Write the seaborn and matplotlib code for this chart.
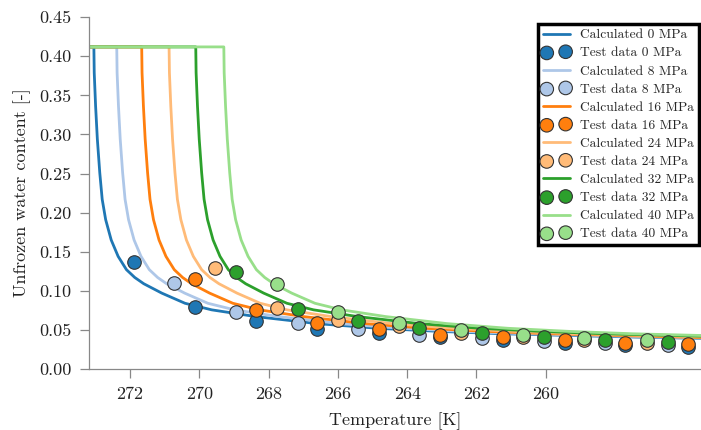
import matplotlib
matplotlib.use("Agg")
import matplotlib.pyplot as plt
import seaborn as sns

pressures = [0, 8, 16, 24, 32, 40]
colors = ["#1f77b4", "#aec7e8", "#ff7f0e", "#ffbb78", "#2ca02c", "#98df8a"]

# calculated curves
calc_T = {
    0: [273.2, 273.04, 273.03, 272.99, 272.94, 272.87, 272.80, 272.70, 272.54, 272.34, 272.10, 271.86,
        271.60, 271.08, 270.41, 269.64, 268.37, 266.60, 264.84, 263.05, 261.24, 259.45, 257.66, 255.40],
    8: [273.2, 272.38, 272.37, 272.33, 272.28, 272.21, 272.14, 272.04, 271.88, 271.68, 271.44, 271.20,
        270.94, 270.42, 269.75, 268.98, 267.71, 265.94, 264.18, 262.39, 260.58, 258.79, 257.00, 255.40],
    16: [273.2, 271.66, 271.65, 271.61, 271.56, 271.49, 271.42, 271.32, 271.16, 270.96, 270.72, 270.48,
         270.22, 269.70, 269.03, 268.26, 266.99, 265.22, 263.46, 261.67, 259.86, 258.07, 256.28, 255.40],
    24: [273.2, 270.87, 270.86, 270.82, 270.77, 270.70, 270.63, 270.53, 270.37, 270.17, 269.93, 269.69,
         269.43, 268.91, 268.24, 267.47, 266.20, 264.43, 262.67, 260.88, 259.07, 257.28, 255.49],
    32: [273.2, 270.10, 270.09, 270.05, 270.00, 269.93, 269.86, 269.76, 269.60, 269.40, 269.16, 268.92,
         268.66, 268.14, 267.47, 266.70, 265.43, 263.66, 261.90, 260.11, 258.30, 256.51, 254.72],
    40: [273.2, 269.29, 269.28, 269.24, 269.19, 269.12, 269.05, 268.95, 268.79, 268.59, 268.35, 268.11,
         267.85, 267.33, 266.66, 265.89, 264.62, 262.85, 261.09, 259.30, 257.49, 255.70, 253.91],
}
calc_theta = {
    0: [0.412, 0.412, 0.379, 0.336, 0.294, 0.251, 0.217, 0.191, 0.165, 0.144, 0.127, 0.117,
        0.109, 0.097, 0.084, 0.0756, 0.067, 0.058, 0.052, 0.048, 0.045, 0.043, 0.041, 0.039],
    8: [0.412, 0.412, 0.379, 0.336, 0.294, 0.251, 0.217, 0.191, 0.165, 0.144, 0.127, 0.117,
        0.109, 0.097, 0.084, 0.0756, 0.067, 0.058, 0.052, 0.048, 0.045, 0.043, 0.041, 0.0395],
    16: [0.412, 0.412, 0.379, 0.336, 0.294, 0.251, 0.217, 0.191, 0.165, 0.144, 0.127, 0.117,
         0.109, 0.097, 0.084, 0.0756, 0.067, 0.058, 0.052, 0.048, 0.045, 0.043, 0.041, 0.040],
    24: [0.412, 0.412, 0.379, 0.336, 0.294, 0.251, 0.217, 0.191, 0.165, 0.144, 0.127, 0.117,
         0.109, 0.097, 0.084, 0.0756, 0.067, 0.058, 0.052, 0.048, 0.045, 0.043, 0.041],
    32: [0.412, 0.412, 0.379, 0.336, 0.294, 0.251, 0.217, 0.191, 0.165, 0.144, 0.127, 0.117,
         0.109, 0.097, 0.084, 0.0756, 0.067, 0.058, 0.052, 0.048, 0.045, 0.043, 0.041],
    40: [0.412, 0.412, 0.379, 0.336, 0.294, 0.251, 0.217, 0.191, 0.165, 0.144, 0.127, 0.117,
         0.109, 0.097, 0.084, 0.0756, 0.067, 0.058, 0.052, 0.048, 0.045, 0.043, 0.041],
}

# test data
test_T = {
    0: [271.88, 270.12, 268.36, 266.60, 264.81, 263.05, 261.24, 259.45, 257.71, 255.90],
    8: [270.73, 268.94, 267.15, 265.42, 263.66, 261.84, 260.05, 258.29, 256.47],
    16: [270.12, 268.36, 266.60, 264.81, 263.05, 261.24, 259.45, 257.71, 255.90],
    24: [269.55, 267.76, 266.00, 264.24, 262.45, 260.66, 258.90, 257.08],
    32: [268.94, 267.15, 265.42, 263.66, 261.84, 260.05, 258.29, 256.47],
    40: [267.76, 266.00, 264.24, 262.45, 260.66, 258.90, 257.08],
}
test_theta = {
    0: [0.137, 0.0795, 0.0615, 0.051, 0.0457, 0.0406, 0.0372, 0.0337, 0.031, 0.0286],
    8: [0.110, 0.0727, 0.0586, 0.051, 0.0436, 0.0393, 0.0363, 0.033, 0.031],
    16: [0.115, 0.0748, 0.0594, 0.051, 0.0436, 0.0406, 0.0365, 0.0337, 0.032],
    24: [0.129, 0.0778, 0.062, 0.0543, 0.0457, 0.0406, 0.037, 0.0337],
    32: [0.124, 0.0765, 0.0615, 0.052, 0.0457, 0.0406, 0.0372, 0.035],
    40: [0.1086, 0.073, 0.0586, 0.050, 0.0436, 0.039, 0.0372],
}

x_ticks = [272, 270, 268, 266, 264, 262, 260]
y_ticks = [0.0, 0.05, 0.10, 0.15, 0.20, 0.25, 0.30, 0.35, 0.40, 0.45]

sns.set_style("ticks")
plt.rcParams["font.family"] = ["cmr10", "DejaVu Serif"]
plt.rcParams["mathtext.fontset"] = "cm"
plt.rcParams["axes.formatter.use_mathtext"] = True

fig = plt.figure(figsize=(7.01, 4.30), dpi=100)
ax = fig.add_axes([0.127, 0.142, 0.873, 0.818])

for p, c in zip(pressures, colors):
    sns.lineplot(x=calc_T[p], y=calc_theta[p], color=c, lw=2, sort=False,
                 estimator=None, ax=ax, label=f"Calculated {p} MPa")
for p, c in zip(pressures, colors):
    sns.scatterplot(x=test_T[p], y=test_theta[p], color=c, s=95, edgecolor="#333333",
                    linewidth=0.8, zorder=3, ax=ax, label=f"Test data {p} MPa")

h, l = ax.get_legend_handles_labels()
lookup = dict(zip(l, h))
order = []
for p in pressures:
    order += [f"Calculated {p} MPa", f"Test data {p} MPa"]

ax.set_xlim(273.18, 255.52)
ax.set_ylim(0, 0.45)
ax.set_xticks(x_ticks)
ax.set_xticklabels([str(t) for t in x_ticks])
ax.set_yticks(y_ticks)
ax.set_yticklabels([f"{t:.2f}" for t in y_ticks])

for s in ["top", "right"]:
    ax.spines[s].set_visible(False)
for s in ["left", "bottom"]:
    ax.spines[s].set_color("#888888")
    ax.spines[s].set_linewidth(0.9)
ax.tick_params(axis="both", length=6.5, width=0.9, color="#888888", labelsize=13,
               pad=6, labelcolor="#222222")

ax.set_xlabel("Temperature [K]", fontsize=13, labelpad=8, color="#222222")
ax.set_ylabel("Unfrozen water content [-]", fontsize=13, labelpad=6, color="#222222")

leg = ax.legend([lookup[k] for k in order], order, loc="upper right",
                bbox_to_anchor=(0.997, 0.98), borderaxespad=0, fontsize=9.7,
                scatterpoints=2, fancybox=False, framealpha=1, edgecolor="black",
                labelspacing=0.42, handlelength=2.0, handletextpad=0.8, borderpad=0.35)
leg.get_frame().set_linewidth(2.5)

fig.savefig("out.png", dpi=100)
